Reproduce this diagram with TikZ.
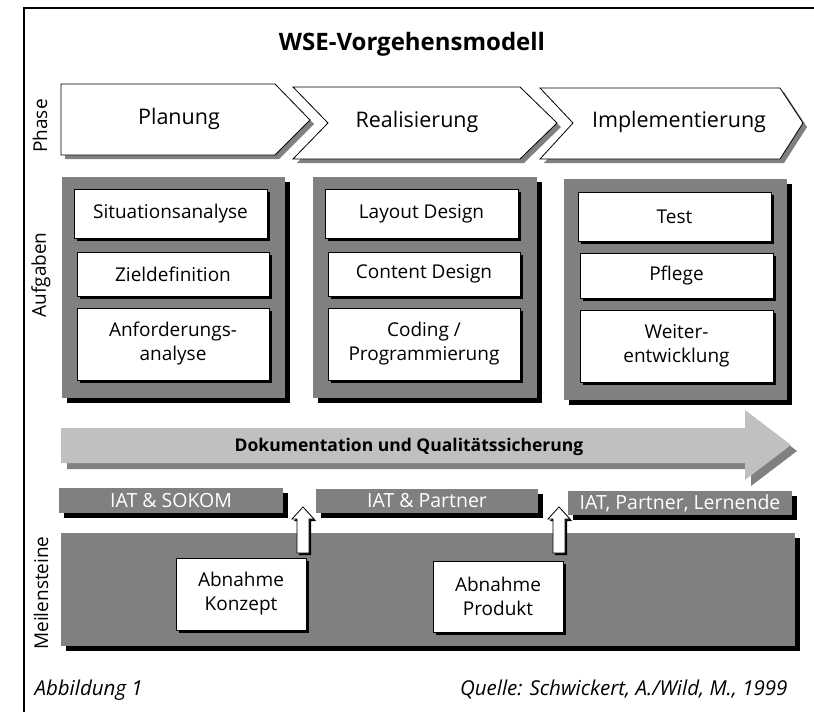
\documentclass[tikz,border=0pt]{standalone}
\usepackage{fontspec}
\setmainfont{Open Sans}
\usepackage{tikz}
\usetikzlibrary{shadows}

\definecolor{dunkelgrau}{HTML}{808080}
\definecolor{hellgrau}{HTML}{C0C0C0}

\tikzset{
    aufgabe/.style={draw, fill=white, line width=0.8pt, align=center, inner sep=0pt,
        font=\fontsize{19}{24}\selectfont,
        general shadow={shadow xshift=2.5pt, shadow yshift=-2.5pt, fill=black}},
    feld/.style={fill=dunkelgrau, inner sep=0pt,
        general shadow={shadow xshift=5pt, shadow yshift=-5pt, fill=black}},
    traeger/.style={feld, text=white, font=\fontsize{19.5}{22}\selectfont},
    seite/.style={rotate=90, font=\fontsize{19}{22}\selectfont},
    phasentext/.style={font=\fontsize{21.5}{26}\selectfont},
    fuss/.style={font=\itshape\fontsize{20.5}{24}\selectfont}
}

\begin{document}
\begin{tikzpicture}[x=1pt, y=-1pt]
    \useasboundingbox (0,0) rectangle (814,712);
    \draw [line width=2pt] (814,8) -- (24,8) -- (24,712);

    \node [font=\bfseries\fontsize{24}{28}\selectfont] (titel) at (412,44) {WSE-Vorgehensmodell};

    % Phasen
    \fill [dunkelgrau] (65,88) -- (279,88) -- (314,124) -- (279,159) -- (65,159) -- cycle;
    \draw [fill=white, line width=0.8pt] (61,84) -- (275,84) -- (310,120) -- (275,155) -- (61,155) -- cycle;
    \fill [dunkelgrau] (297,91) -- (524,91) -- (561,127) -- (524,163) -- (297,163) -- (332,127) -- cycle;
    \draw [fill=white, line width=0.8pt] (293,87) -- (520,87) -- (557,123) -- (520,159) -- (293,159) -- (328,123) -- cycle;
    \fill [dunkelgrau] (544,92) -- (784,92) -- (807,127) -- (784,163) -- (544,163) -- (577,127) -- cycle;
    \draw [fill=white, line width=0.8pt] (540,88) -- (780,88) -- (803,123) -- (780,159) -- (540,159) -- (573,123) -- cycle;
    \node [phasentext] (planung) at (179,119) {Planung};
    \node [phasentext] (realisierung) at (417,122) {Realisierung};
    \node [phasentext] (implementierung) at (679,122) {Implementierung};

    % Aufgaben
    \node [feld, minimum width=223pt, minimum height=221pt] (spalte1) at (173.5,287.5) {};
    \node [feld, minimum width=224pt, minimum height=221pt] (spalte2) at (425,287.5) {};
    \node [feld, minimum width=223pt, minimum height=221pt] (spalte3) at (675.5,289.5) {};

    \node [aufgabe, minimum width=193pt, minimum height=49pt] (situation) at (170.5,213.5) {Situationsanalyse};
    \node [aufgabe, minimum width=192pt, minimum height=44pt] (ziel) at (173,274) {Zieldefinition};
    \node [aufgabe, minimum width=192pt, minimum height=72pt] (anforderung) at (173,344) {Anforderungs-\\analyse};
    \node [aufgabe, minimum width=193pt, minimum height=49pt] (layout) at (421.5,213.5) {Layout Design};
    \node [aufgabe, minimum width=192pt, minimum height=44pt] (content) at (424,274) {Content Design};
    \node [aufgabe, minimum width=192pt, minimum height=72pt] (coding) at (424,344) {Coding /\\Programmierung};
    \node [aufgabe, minimum width=193pt, minimum height=49pt] (test) at (674.5,216.5) {Test};
    \node [aufgabe, minimum width=193pt, minimum height=45pt] (pflege) at (676.5,275.5) {Pflege};
    \node [aufgabe, minimum width=193pt, minimum height=72pt] (weiter) at (676.5,346) {Weiter-\\entwicklung};

    % Dokumentation
    \fill [dunkelgrau] (67,434) -- (751,434) -- (751,416) -- (797,451) -- (751,486) -- (751,469) -- (67,469) -- cycle;
    \fill [hellgrau] (61,428) -- (745,428) -- (745,410) -- (791,445) -- (745,480) -- (745,463) -- (61,463) -- cycle;
    \node [font=\bfseries\fontsize{17.5}{21}\selectfont] (doku) at (409,447) {Dokumentation und Qualitätssicherung};

    % Beteiligte
    \node [traeger, minimum width=224pt, minimum height=25pt] (sokom) at (171,500.5) {IAT \& SOKOM};
    \node [traeger, minimum width=222pt, minimum height=24pt] (partner) at (427,501) {IAT \& Partner};
    \node [traeger, minimum width=224pt, minimum height=24pt] (lernende) at (680,503) {IAT, Partner, Lernende};

    % Meilensteine
    \node [feld, minimum width=734pt, minimum height=113pt] (meilen) at (428,589.5) {};
    \node [aufgabe, minimum width=130pt, minimum height=72pt] (konzept) at (241,594) {Abnahme\\Konzept};
    \node [aufgabe, minimum width=130pt, minimum height=71pt] (produkt) at (498,596.5) {Abnahme\\Produkt};
    \foreach \cx in {303,559} {
        \fill [black] (\cx-4,555) -- (\cx-4,521) -- (\cx-9,521) -- (\cx+2,509) -- (\cx+13,521) -- (\cx+8,521) -- (\cx+8,555) -- cycle;
        \draw [fill=white, line width=0.8pt] (\cx-6,553) -- (\cx-6,519) -- (\cx-11,519) -- (\cx,507) -- (\cx+11,519) -- (\cx+6,519) -- (\cx+6,553) -- cycle;
    }

    \node [seite] (phase) at (40,126) {Phase};
    \node [seite] (aufgaben) at (41,275) {Aufgaben};
    \node [seite] (meilensteine) at (41,593) {Meilensteine};

    \node [fuss, anchor=base west] (abb) at (31,695) {Abbildung 1};
    \node [fuss, anchor=base east] (quelle) at (791,695) {Quelle: Schwickert, A./Wild, M., 1999};
\end{tikzpicture}
\end{document}
